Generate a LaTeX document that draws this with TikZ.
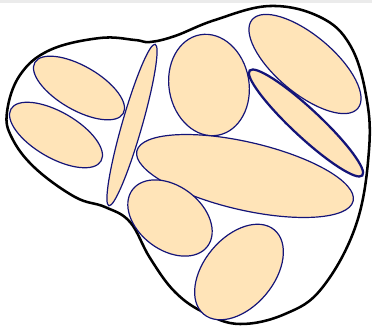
\documentclass[tikz,border=0pt]{standalone}
\usepackage{tikz}
\definecolor{cellfill}{RGB}{255,228,184}
\definecolor{cellline}{RGB}{20,20,120}
\tikzset{
  outline/.style ={draw=black, line width=1.9pt},
  cell/.style    ={draw=cellline, fill=cellfill, line width=0.9pt},
  cellthick/.style ={cell, line width=1.7pt},
  topbar/.style  ={fill=black!8, draw=none},
}

\begin{document}
\begin{tikzpicture}[x=0.75pt, y=0.75pt]
  \useasboundingbox (0,0) rectangle (372,-326);
  \fill[topbar] (0,0) rectangle (372,-3);

  % outer boundary
  \draw[outline] plot[smooth cycle, tension=0.65] coordinates {
    (7,-112) (20,-75) (50,-50) (100,-38) (135,-40) (150,-42) (175,-36)
    (215,-20) (270,-6) (320,-17) (350,-45) (366,-95) (369,-150)
    (356,-225) (322,-288) (285,-314) (240,-324) (205,-313) (175,-292)
    (150,-258) (130,-222) (105,-207) (75,-197) (35,-168) (12,-138)};

  % cells
  \draw[cell] (79,-88) [rotate around={-30:(79,-88)}] ellipse [x radius=51, y radius=22];
  \draw[cell] (56,-135) [rotate around={-30:(56,-135)}] ellipse [x radius=52, y radius=23];
  \draw[cell] (132,-125) [rotate around={74:(132,-125)}] ellipse [x radius=84, y radius=10];
  \draw[cell] (209,-85) [rotate around={10:(209,-85)}] ellipse [x radius=40, y radius=51];
  \draw[cell] (305,-64) [rotate around={-40:(305,-64)}] ellipse [x radius=69, y radius=29];
  \draw[cellthick] (306,-123) [rotate around={-43:(306,-123)}] ellipse [x radius=77, y radius=14];
  \draw[cell] (245,-176) [rotate around={-13:(245,-176)}] ellipse [x radius=111, y radius=34];
  \draw[cell] (170,-218) [rotate around={-37:(170,-218)}] ellipse [x radius=47, y radius=32];
  \draw[cell] (239,-272) [rotate around={50:(239,-272)}] ellipse [x radius=55, y radius=35];
\end{tikzpicture}
\end{document}
